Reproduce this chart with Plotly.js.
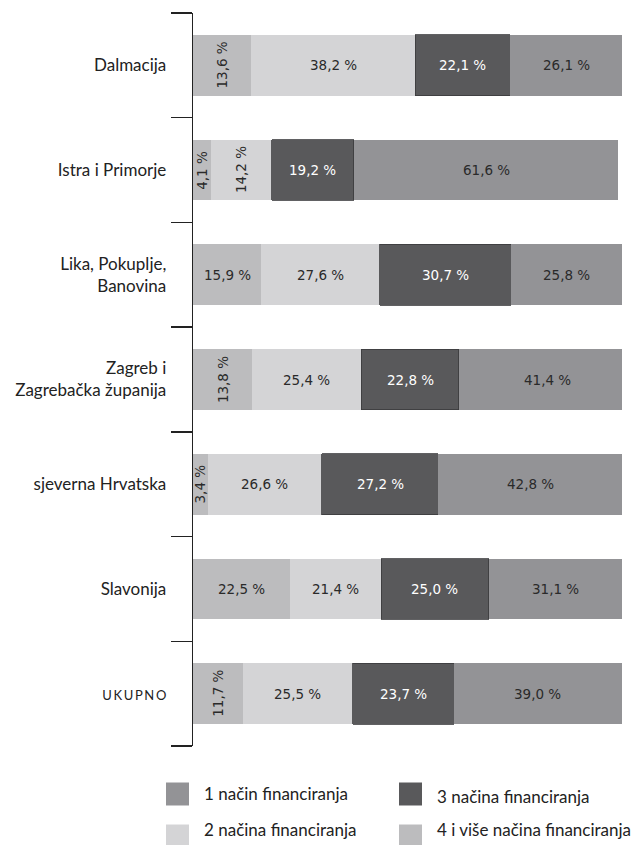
<!DOCTYPE html>
<html>
<head>
<meta charset="utf-8">
<script src="https://cdn.plot.ly/plotly-3.0.1.min.js"></script>
<style>
html,body{margin:0;padding:0;background:#fff;}
#chart{width:637px;height:845px;}
</style>
</head>
<body>
<div id="chart"></div>
<script>
// ---- data ----
const categories = ['Dalmacija', 'Istra i Primorje', 'Lika, Pokuplje, Banovina', 'Zagreb i Zagrebačka županija', 'sjeverna Hrvatska', 'Slavonija', 'UKUPNO'];
const tickLabels = ['Dalmacija', 'Istra i Primorje', 'Lika, Pokuplje,<br>Banovina', 'Zagreb i<br>Zagrebačka županija', 'sjeverna Hrvatska', 'Slavonija', '<span style="font-size:13px">U\u2009K\u2009U\u2009P\u2009N\u2009O</span>'];
const seriesNames = ['4 i više načina financiranja', '2 načina financiranja', '3 načina financiranja', '1 način financiranja'];
const vMore = [13.6, 4.1, 15.9, 13.8, 3.4, 22.5, 11.7];
const v2 = [38.2, 14.2, 27.6, 25.4, 26.6, 21.4, 25.5];
const v3 = [22.1, 19.2, 30.7, 22.8, 27.2, 25.0, 23.7];
const v1 = [26.1, 61.6, 25.8, 41.4, 42.8, 31.1, 39.0];

// ---- styles ----
const colors = ['#bcbcbe', '#d4d4d6', '#59595b', '#939396'];
const textColors = ['#2a2a2a', '#2a2a2a', '#ffffff', '#2a2a2a'];
const seriesValues = [vMore, v2, v3, v1];

const traces = seriesValues.map((vals, i) => ({
  type: 'bar',
  orientation: 'h',
  name: seriesNames[i],
  x: vals,
  y: categories,
  marker: {color: colors[i], line: {width: i === 2 ? 0.8 : 0, color: '#3a3a3c'}},
  hoverinfo: 'none',
  showlegend: false
}));

// bar value labels
const fmt = v => v.toFixed(1).replace('.', ',') + ' %';
const annotations = [];
categories.forEach((c, j) => {
  let cum = 0;
  seriesValues.forEach((vals, i) => {
    const v = vals[j];
    annotations.push({
      x: cum + v / 2, y: c, xref: 'x', yref: 'y',
      text: fmt(v), showarrow: false,
      textangle: v < 15 ? -90 : 0,
      font: {family: 'DejaVu Sans, Verdana, sans-serif', size: 13.5, color: textColors[i]}
    });
    cum += v;
  });
});

// legend (drawn as shapes + text), order: 1, 3 / 2, 4+
const W = 637, H = 845, ML = 193, MR = 15, MT = 13, MB = 99;
const pw = W - ML - MR, ph = H - MT - MB;
const px2x = px => (px - ML) / pw;
const py2y = py => (H - MB - py) / ph;
const legendOrder = [3, 2, 1, 0];
const legendCols = [166, 399];
const legendRows = [794, 836];
const legendTextRows = [793, 829];
const shapes = [];
legendOrder.forEach((si, k) => {
  const col = k % 2, row = Math.floor(k / 2);
  const sx = legendCols[col], sy = legendRows[row];
  shapes.push({type: 'rect', xref: 'paper', yref: 'paper',
    x0: px2x(sx), x1: px2x(sx + 23), y0: py2y(sy - 11.5), y1: py2y(sy + 11.5),
    fillcolor: colors[si], line: {width: 0}});
  annotations.push({xref: 'paper', yref: 'paper', x: px2x(sx + 36), y: py2y(legendTextRows[row] + (col === 1 && row === 0 ? 3 : 0)),
    xanchor: 'left', yanchor: 'middle', showarrow: false, text: seriesNames[si],
    font: {family: 'Lato, sans-serif', size: 17, color: '#222'}});
});

const layout = {
  width: W, height: H,
  margin: {l: ML, r: MR, t: MT, b: MB, pad: 0},
  paper_bgcolor: '#fff', plot_bgcolor: '#fff',
  barmode: 'stack',
  bargap: 0.42,
  showlegend: false,
  xaxis: {range: [0, 100], visible: false, fixedrange: true},
  yaxis: {
    type: 'category', autorange: 'reversed',
    tickmode: 'array', tickvals: categories, ticktext: tickLabels,
    ticks: 'outside', tickson: 'boundaries', ticklen: 21, tickwidth: 1.3, tickcolor: '#222',
    showline: true, linecolor: '#222', linewidth: 1.3,
    showgrid: false, zeroline: false,
    ticklabelstandoff: 22,
    tickfont: {family: 'Lato, sans-serif', size: 17, color: '#222'}
  },
  annotations: annotations,
  shapes: shapes
};

Plotly.newPlot('chart', traces, layout, {displayModeBar: false, staticPlot: true});
</script>
</body>
</html>
